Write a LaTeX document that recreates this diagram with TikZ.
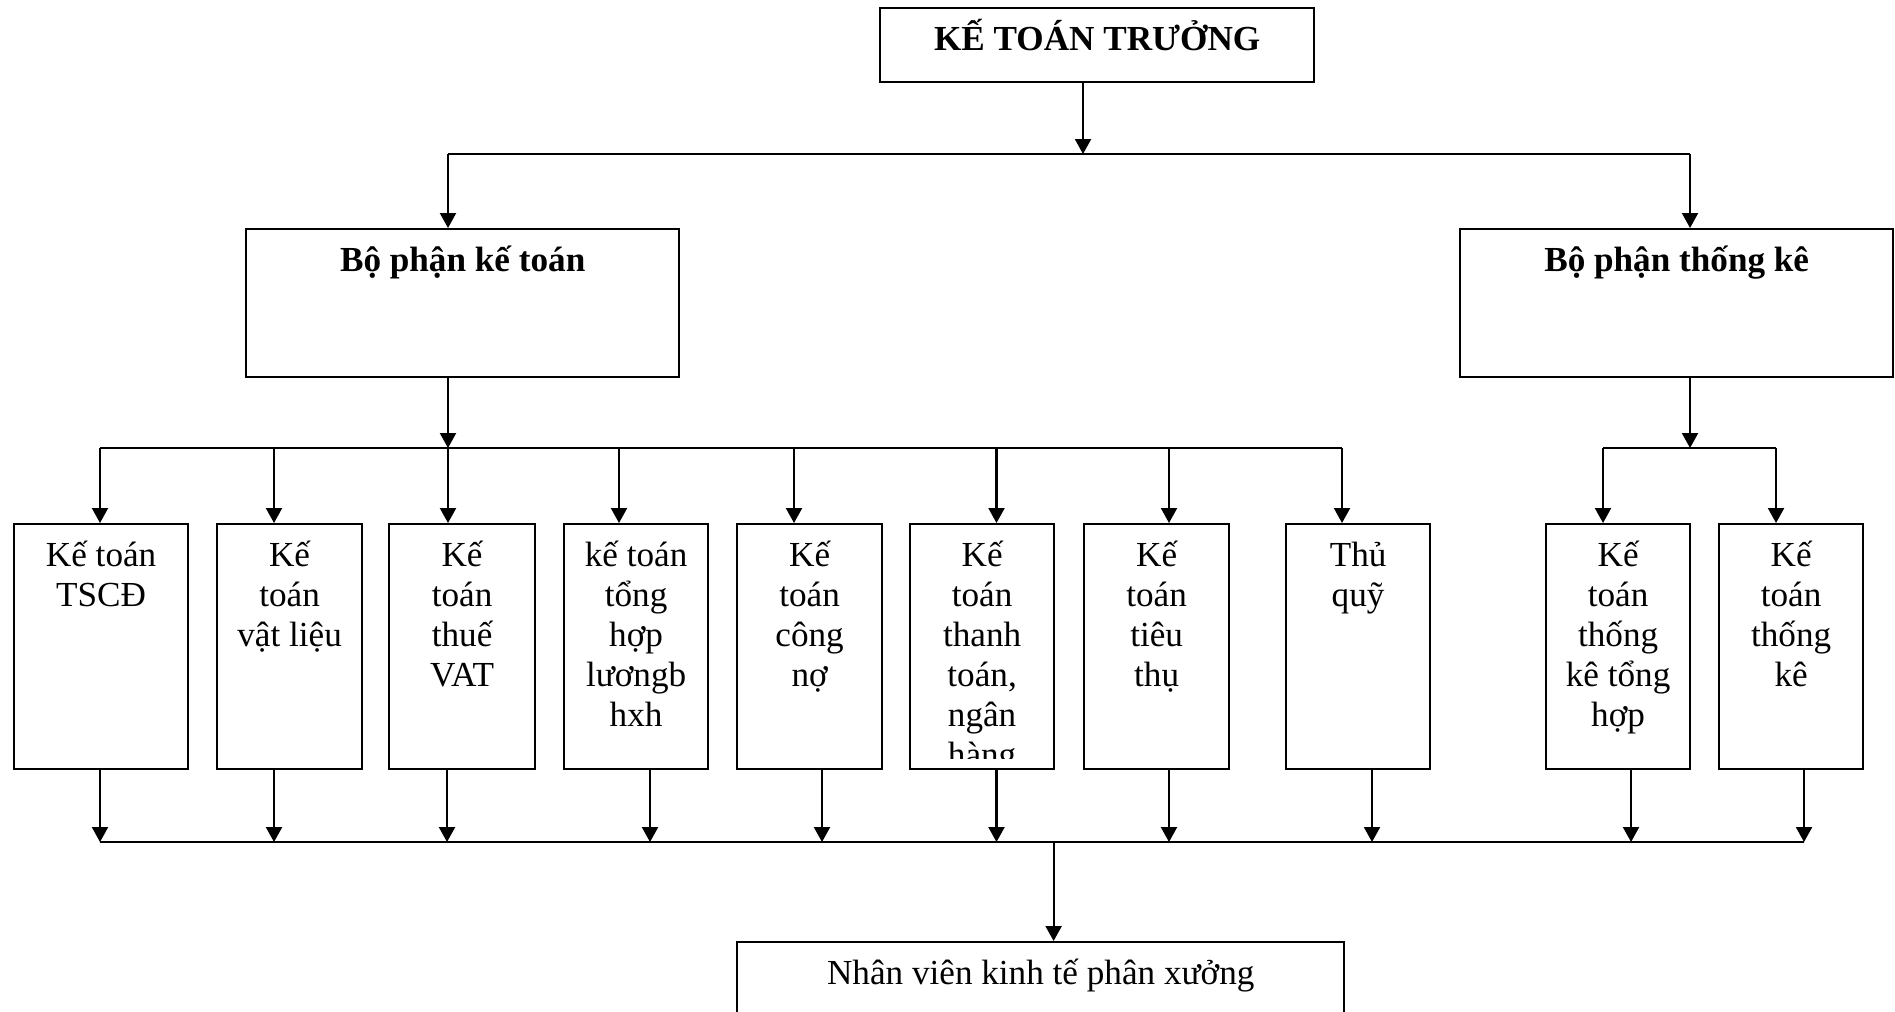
\documentclass[tikz,border=0pt]{standalone}
\usepackage{fontspec}
\setmainfont{Liberation Serif}
\usetikzlibrary{positioning, arrows.meta}

% first line sits 43px below the box top
\newcommand{\tl}{\rule{0pt}{12.23pt}}

\tikzset{
  box/.style={draw, line width=0.6pt, inner sep=0pt, anchor=north west},
  lbl/.style={anchor=north, align=center, inner sep=0pt, font=\fontsize{10}{11.38}\selectfont},
  arr/.style={-{Triangle[length=0.15cm,width=0.16cm]}, line width=0.6pt},
  bus/.style={line width=0.6pt}
}

\begin{document}
\begin{tikzpicture}[x=0.01cm, y=-0.01cm]
                \path[use as bounding box, clip] (0,0) rectangle (1895,1011);
                % top
                \node[box, minimum width=4.34cm, minimum height=0.74cm] (ktt) at (879,7) {};
                \node[lbl, font=\fontsize{10}{11.38}\selectfont\bfseries] (tktt) at (ktt.north) {\tl KẾ TOÁN TRƯỞNG};
                \node[box, minimum width=4.33cm, minimum height=1.48cm] (bpkt) at (245,228) {};
                \node[lbl, font=\fontsize{10}{11.38}\selectfont\bfseries] (tbpkt) at (bpkt.north) {\tl Bộ phận kế toán};
                \node[box, minimum width=4.33cm, minimum height=1.48cm] (bptk) at (1459,228) {};
                \node[lbl, font=\fontsize{10}{11.38}\selectfont\bfseries] (tbptk) at (bptk.north) {\tl Bộ phận thống kê};
                \coordinate (b0) at (1083,154);
                \coordinate (b0l) at (448,154);
                \coordinate (b0r) at (1690,154);
                \draw[arr] (ktt.south -| b0) -- (b0);
                \draw[bus] (b0l) -- (b0r);
                \draw[arr] (b0l) -- (bpkt.north -| b0l);
                \draw[arr] (b0r) -- (bptk.north -| b0r);
                % leaf boxes
                \node[box, minimum width=1.74cm, minimum height=2.45cm] (kt1) at (13,523) {};
                \node[box, minimum width=1.45cm, minimum height=2.45cm] (kt2) at (216,523) {};
                \node[box, minimum width=1.46cm, minimum height=2.45cm] (kt3) at (388,523) {};
                \node[box, minimum width=1.44cm, minimum height=2.45cm] (kt4) at (563,523) {};
                \node[box, minimum width=1.45cm, minimum height=2.45cm] (kt5) at (736,523) {};
                \node[box, minimum width=1.44cm, minimum height=2.45cm] (kt6) at (909,523) {};
                \node[box, minimum width=1.45cm, minimum height=2.45cm] (kt7) at (1083,523) {};
                \node[box, minimum width=1.44cm, minimum height=2.45cm] (kt8) at (1285,523) {};
                \node[box, minimum width=1.44cm, minimum height=2.45cm] (kt9) at (1545,523) {};
                \node[box, minimum width=1.44cm, minimum height=2.45cm] (kt10) at (1718,523) {};
                \node[lbl] (t1) at (kt1.north) {\tl Kế toán\\TSCĐ};
                \node[lbl] (t2) at (kt2.north) {\tl Kế\\toán\\vật liệu};
                \node[lbl] (t3) at (kt3.north) {\tl Kế\\toán\\thuế\\VAT};
                \node[lbl] (t4) at (kt4.north) {\tl kế toán\\tổng\\hợp\\lươngb\\hxh};
                \node[lbl] (t5) at (kt5.north) {\tl Kế\\toán\\công\\nợ};
                \begin{scope}
                    \clip (909,523) rectangle (1053,758);
                    \node[lbl] (t6) at (kt6.north) {\tl Kế\\toán\\thanh\\toán,\\ngân\\hàng};
                \end{scope}
                \node[lbl] (t7) at (kt7.north) {\tl Kế\\toán\\tiêu\\thụ};
                \node[lbl] (t8) at (kt8.north) {\tl Thủ\\quỹ};
                \node[lbl] (t9) at (kt9.north) {\tl Kế\\toán\\thống\\kê tổng\\hợp};
                \node[lbl] (t10) at (kt10.north) {\tl Kế\\toán\\thống\\kê};
                % middle buses
                \coordinate (b1) at (448,448);
                \coordinate (b1l) at (100,448);
                \coordinate (b1r) at (1342,448);
                \coordinate (b2) at (1690,448);
                \coordinate (b2l) at (1603,448);
                \coordinate (b2r) at (1776,448);
                \draw[arr] (bpkt.south -| b1) -- (b1);
                \draw[bus] (b1l) -- (b1r);
                \draw[arr] (bptk.south -| b2) -- (b2);
                \draw[bus] (b2l) -- (b2r);
                \draw[arr] (b1l) -- (kt1.north -| b1l);
                \draw[arr] (274,448) -- (kt2.north -| 274,0);
                \draw[arr] (b1) -- (kt3.north -| b1);
                \draw[arr] (619,448) -- (kt4.north -| 619,0);
                \draw[arr] (794,448) -- (kt5.north -| 794,0);
                \draw[arr] (996.5,448) -- (kt6.north -| 996.5,0);
                \draw[arr] (1169,448) -- (kt7.north -| 1169,0);
                \draw[arr] (b1r) -- (kt8.north -| b1r);
                \draw[arr] (b2l) -- (kt9.north -| b2l);
                \draw[arr] (b2r) -- (kt10.north -| b2r);
                % bottom bus
                \coordinate (b3l) at (100,842);
                \coordinate (b3r) at (1804,842);
                \coordinate (b3) at (1053.6,842);
                \draw[arr] (kt1.south -| b3l) -- (b3l);
                \draw[arr] (kt2.south -| 274,0) -- (274,842);
                \draw[arr] (kt3.south -| 447,0) -- (447,842);
                \draw[arr] (kt4.south -| 650,0) -- (650,842);
                \draw[arr] (kt5.south -| 822,0) -- (822,842);
                \draw[arr] (kt6.south -| 996.5,0) -- (996.5,842);
                \draw[arr] (kt7.south -| 1169,0) -- (1169,842);
                \draw[arr] (kt8.south -| 1372,0) -- (1372,842);
                \draw[arr] (kt9.south -| 1631,0) -- (1631,842);
                \draw[arr] (kt10.south -| b3r) -- (b3r);
                \draw[bus] (b3l) -- (b3r);
                \node[box, minimum width=6.07cm, minimum height=1.2cm] (nv) at (736,941) {};
                \node[lbl] (tnv) at (nv.north) {\tl Nhân viên kinh tế phân xưởng};
                \draw[arr] (b3) -- (nv.north -| b3);
            \end{tikzpicture}
\end{document}
